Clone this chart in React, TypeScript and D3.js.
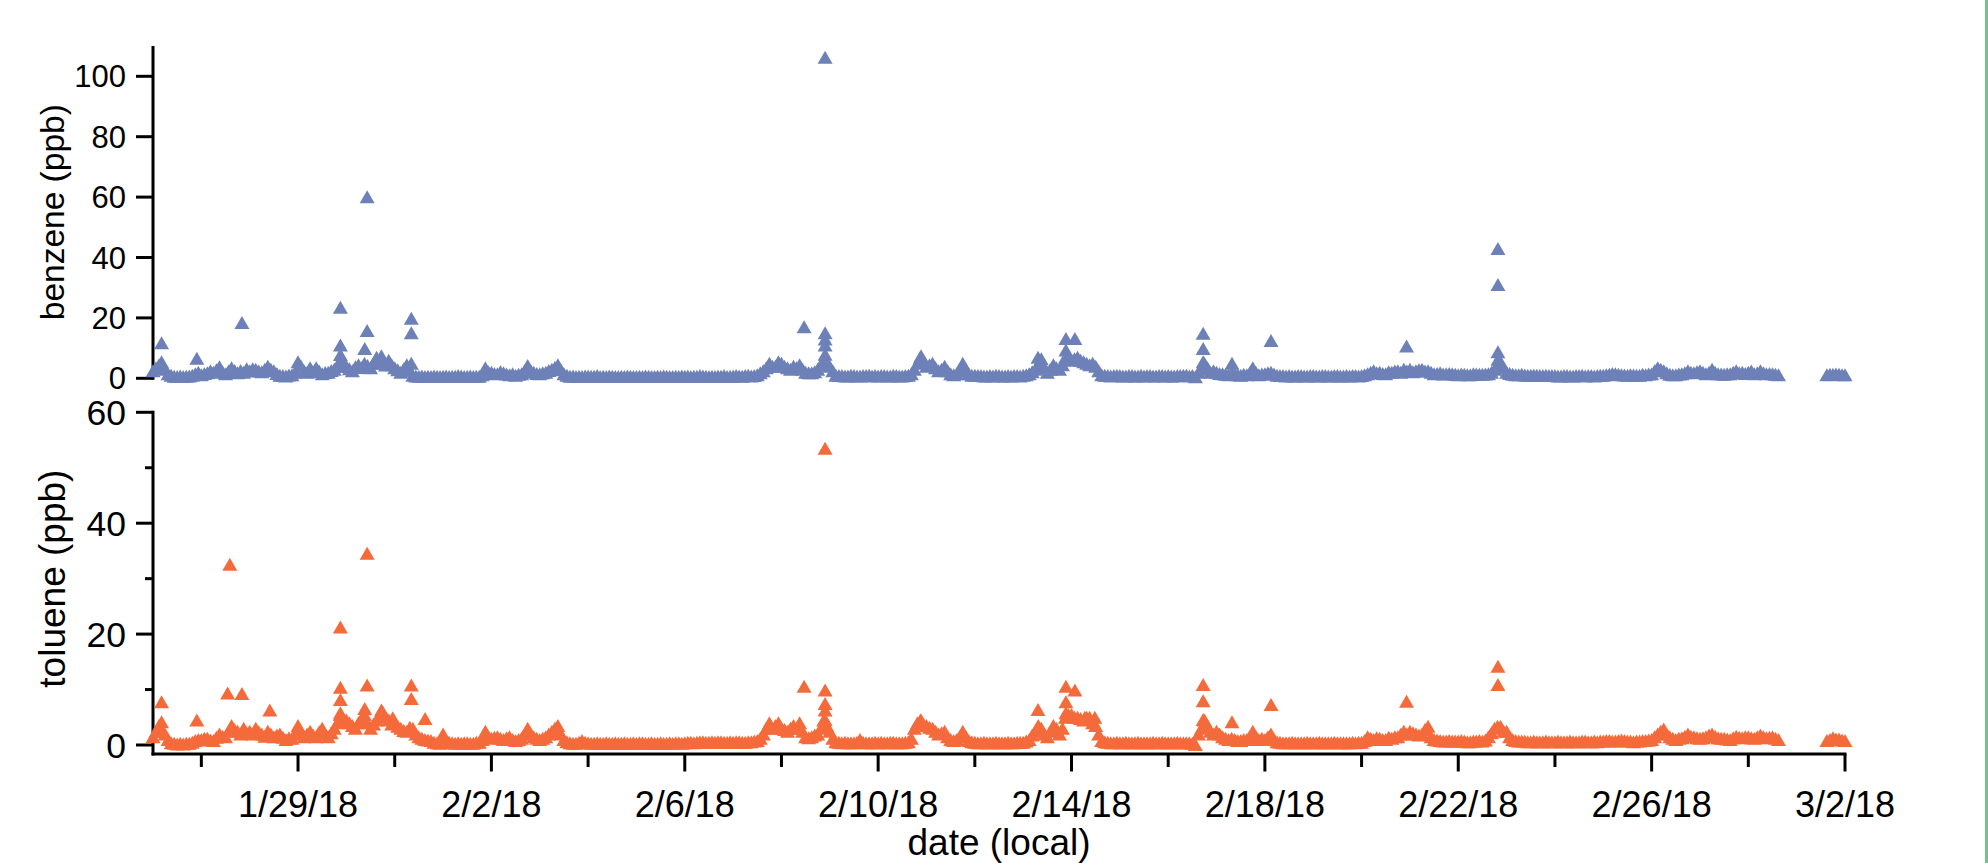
import React from "react";
import * as d3 from "d3";

// ---------- DATA ----------
const START = "2018-01-26 00:00"; // first baseline sample
const END_START = "2018-03-01 15:00"; // samples after the data gap
const STEP_MINUTES = 90;

// benzene (ppb), 90-minute samples from 1/26 00:00 to 2/28 15:00 (one row per day)
const benzeneMain = [
  2.5, 3.5, 4.5, 3.5, 3.0, 1.5, 1.0, 0.7, 0.6, 0.8, 0.6, 0.7, 0.8, 1.0, 1.5, 2.0,
  1.2, 1.6, 1.8, 2.5, 2.0, 2.8, 3.8, 2.2, 1.5, 2.4, 3.5, 2.6, 1.8, 2.6, 2.0, 3.2,
  2.5, 3.2, 3.0, 2.4, 2.2, 3.0, 4.0, 3.0, 2.5, 1.6, 1.0, 0.9, 0.8, 1.1, 1.2, 2.0,
  5.5, 4.0, 2.5, 2.0, 3.5, 2.2, 3.5, 2.4, 1.5, 1.9, 2.0, 2.6, 3.0, 4.0, 6.0, 5.0,
  4.0, 3.2, 2.5, 3.8, 4.5, 3.6, 5.0, 4.2, 3.5, 5.0, 7.0, 5.5, 5.0, 4.4, 6.0, 4.5,
  3.5, 2.8, 2.0, 3.2, 4.5, 2.5, 1.0, 0.8, 0.7, 0.8, 0.6, 0.7, 0.6, 0.8, 0.7, 0.6,
  0.7, 0.8, 0.6, 0.7, 0.7, 0.9, 0.8, 0.6, 0.7, 0.8, 0.6, 0.7, 0.7, 1.2, 3.5, 2.2,
  2.0, 1.6, 1.5, 2.2, 1.8, 1.4, 1.2, 1.5, 1.0, 1.3, 1.5, 2.5, 4.2, 2.6, 2.0, 1.6,
  1.5, 1.8, 2.0, 2.6, 3.0, 3.6, 4.5, 2.8, 1.5, 1.0, 0.7, 0.8, 0.6, 0.7, 0.6, 0.8,
  0.8, 0.7, 0.7, 0.9, 0.6, 0.7, 0.6, 0.8, 0.7, 0.6, 0.6, 0.7, 0.6, 0.8, 0.7, 0.6,
  0.6, 0.7, 0.6, 0.8, 0.7, 0.6, 0.6, 0.7, 0.6, 0.8, 0.7, 0.6, 0.6, 0.7, 0.6, 0.8,
  0.7, 0.8, 0.6, 0.7, 0.7, 0.9, 0.8, 0.7, 0.6, 0.7, 0.6, 0.8, 0.7, 0.9, 0.6, 0.7,
  0.8, 0.9, 0.8, 0.7, 0.9, 1.0, 0.8, 0.9, 1.2, 1.8, 2.5, 3.5, 5.0, 4.0, 4.0, 5.5,
  5.0, 4.0, 3.5, 3.0, 4.0, 3.5, 4.5, 3.0, 2.0, 1.8, 1.8, 2.2, 3.0, 4.5, 6.0, 5.0,
  4.0, 2.5, 1.0, 0.9, 0.9, 0.8, 0.8, 1.0, 0.9, 0.8, 0.8, 0.9, 0.9, 1.0, 0.8, 0.9,
  0.8, 0.9, 0.9, 0.8, 0.8, 1.0, 0.9, 0.8, 0.8, 0.9, 1.0, 1.5, 3.0, 5.0, 7.0, 6.0,
  4.0, 4.5, 5.0, 3.5, 2.5, 3.0, 4.0, 2.5, 1.5, 1.2, 1.5, 2.5, 5.0, 3.0, 1.5, 1.0,
  1.0, 0.9, 0.9, 0.8, 0.8, 0.9, 0.8, 1.0, 0.9, 0.8, 0.8, 0.9, 0.8, 0.9, 0.9, 0.8,
  1.0, 1.2, 1.5, 2.2, 3.0, 4.5, 6.5, 3.5, 2.0, 3.0, 4.5, 3.5, 3.0, 4.5, 7.0, 6.5,
  6.0, 6.5, 7.0, 6.0, 5.5, 5.0, 4.5, 5.0, 4.0, 2.5, 1.2, 1.0, 0.9, 0.8, 0.9, 1.0,
  0.9, 0.8, 0.8, 0.9, 0.9, 0.8, 0.8, 1.0, 0.8, 0.9, 0.9, 0.8, 0.8, 0.9, 0.9, 0.8,
  0.9, 0.8, 0.8, 0.9, 0.9, 1.0, 1.0, 0.8, 0.9, 0.5, 2.0, 3.0, 5.0, 3.5, 2.0, 2.5,
  2.0, 1.6, 1.5, 1.3, 1.2, 1.6, 1.5, 1.2, 1.0, 1.3, 1.2, 1.8, 3.5, 2.0, 1.2, 1.4,
  1.5, 1.8, 2.0, 1.4, 1.0, 0.9, 0.9, 0.8, 0.9, 0.8, 0.8, 0.9, 0.9, 0.8, 0.8, 0.9,
  0.9, 0.8, 0.8, 0.9, 0.9, 0.8, 0.8, 0.9, 0.9, 0.8, 0.8, 0.9, 0.8, 0.9, 0.9, 0.8,
  0.9, 1.2, 1.5, 2.0, 2.5, 1.8, 2.0, 1.6, 1.5, 2.2, 2.0, 2.4, 2.5, 2.0, 3.0, 2.4,
  3.0, 2.2, 2.5, 2.8, 3.0, 2.4, 2.5, 2.0, 1.5, 1.6, 1.8, 1.4, 1.5, 1.6, 1.5, 1.3,
  1.2, 1.4, 1.3, 1.2, 1.2, 1.5, 1.4, 1.3, 1.3, 1.4, 1.5, 2.0, 3.0, 4.5, 5.5, 3.5,
  2.0, 1.6, 1.3, 1.2, 1.2, 1.3, 1.1, 1.0, 1.0, 1.1, 1.0, 0.9, 0.9, 1.0, 0.9, 0.9,
  0.9, 0.8, 0.8, 0.9, 0.9, 0.8, 0.8, 0.9, 0.9, 1.0, 0.8, 0.9, 0.9, 0.8, 0.9, 1.0,
  1.0, 1.2, 1.3, 1.6, 1.5, 1.3, 1.2, 1.1, 1.0, 1.2, 1.1, 1.0, 1.0, 1.3, 1.2, 1.4,
  1.5, 2.5, 3.5, 3.0, 2.5, 1.8, 1.3, 1.2, 1.2, 1.4, 1.5, 1.8, 2.5, 2.0, 1.8, 2.2,
  2.5, 2.0, 1.5, 2.0, 3.0, 2.0, 1.5, 1.4, 1.3, 1.5, 1.5, 2.0, 2.5, 1.8, 2.0, 1.6,
  2.0, 2.4, 1.5, 1.8, 2.5, 1.8, 1.5, 1.6, 1.5, 1.3, 1.2,
];
const benzeneEnd = [1.2, 1.3, 1.3, 1.4, 1.3, 1.2, 1.2];

// toluene (ppb), same sampling
const tolueneMain = [
  1.5, 2.5, 3.5, 2.5, 2.0, 1.0, 0.4, 0.3, 0.2, 0.3, 0.2, 0.3, 0.3, 0.5, 0.8, 1.0,
  1.0, 1.2, 1.2, 0.9, 0.8, 1.4, 2.0, 1.6, 1.5, 2.5, 3.5, 2.8, 2.5, 2.0, 3.0, 2.2,
  2.5, 2.0, 3.0, 2.4, 2.0, 1.6, 2.5, 2.0, 1.5, 1.8, 2.0, 1.4, 1.0, 1.3, 1.2, 2.0,
  3.5, 2.2, 1.5, 2.0, 2.5, 1.8, 1.5, 2.4, 3.0, 2.0, 1.5, 2.2, 3.0, 4.0, 5.5, 4.5,
  4.5, 4.0, 3.5, 3.0, 4.0, 4.8, 5.5, 4.0, 3.0, 3.8, 4.5, 5.2, 6.0, 5.0, 4.5, 3.8,
  4.0, 3.4, 3.0, 2.6, 2.5, 3.2, 3.0, 2.0, 1.5, 1.2, 1.0, 0.9, 0.8, 0.5, 0.4, 0.3,
  2.0, 0.8, 0.5, 0.4, 0.3, 0.4, 0.3, 0.4, 0.4, 0.3, 0.3, 0.5, 0.5, 1.0, 2.5, 1.5,
  1.2, 1.4, 1.5, 1.2, 1.0, 1.3, 1.5, 1.0, 0.8, 1.0, 1.2, 2.0, 3.0, 2.0, 1.5, 1.2,
  1.0, 1.2, 1.5, 2.0, 2.5, 3.0, 3.5, 2.0, 1.0, 0.6, 0.4, 0.3, 0.3, 0.5, 0.8, 0.5,
  0.4, 0.3, 0.3, 0.4, 0.3, 0.3, 0.4, 0.3, 0.3, 0.4, 0.3, 0.3, 0.4, 0.3, 0.3, 0.4,
  0.3, 0.4, 0.4, 0.3, 0.3, 0.4, 0.3, 0.3, 0.4, 0.3, 0.3, 0.4, 0.3, 0.4, 0.4, 0.3,
  0.4, 0.5, 0.5, 0.4, 0.5, 0.6, 0.6, 0.5, 0.5, 0.6, 0.5, 0.6, 0.6, 0.5, 0.5, 0.6,
  0.5, 0.6, 0.6, 0.5, 0.5, 0.6, 0.6, 0.7, 0.8, 1.2, 2.0, 3.0, 4.0, 3.0, 3.5, 4.0,
  3.0, 2.8, 2.5, 3.0, 3.5, 3.0, 4.0, 2.5, 1.5, 1.3, 1.5, 1.8, 2.0, 3.0, 4.5, 3.5,
  2.5, 1.2, 0.6, 0.5, 0.4, 0.5, 0.4, 0.4, 0.4, 0.5, 1.0, 0.5, 0.4, 0.4, 0.4, 0.5,
  0.4, 0.5, 0.4, 0.4, 0.5, 0.5, 0.4, 0.4, 0.4, 0.5, 0.6, 1.2, 3.0, 4.0, 4.5, 3.8,
  3.5, 3.2, 3.0, 2.5, 2.0, 2.2, 2.5, 1.5, 1.0, 0.8, 1.0, 1.5, 2.5, 1.5, 0.8, 0.6,
  0.5, 0.4, 0.4, 0.5, 0.4, 0.4, 0.4, 0.5, 0.4, 0.4, 0.4, 0.5, 0.4, 0.4, 0.5, 0.5,
  0.5, 0.7, 1.0, 1.8, 2.5, 3.5, 3.0, 2.0, 1.5, 2.5, 3.5, 3.0, 2.0, 3.0, 5.0, 5.5,
  5.5, 5.0, 5.0, 4.8, 4.5, 5.0, 5.0, 4.0, 3.5, 2.0, 0.8, 0.6, 0.5, 0.4, 0.4, 0.5,
  0.4, 0.4, 0.5, 0.4, 0.4, 0.4, 0.5, 0.4, 0.4, 0.4, 0.4, 0.5, 0.4, 0.4, 0.5, 0.4,
  0.4, 0.4, 0.4, 0.5, 0.4, 0.4, 0.4, 0.4, 0.3, 0.1, 2.0, 3.0, 4.5, 3.5, 2.5, 2.0,
  2.5, 2.0, 1.5, 1.2, 1.0, 1.2, 1.0, 0.8, 0.8, 1.0, 1.0, 1.5, 2.5, 1.5, 1.0, 1.2,
  1.0, 1.5, 2.0, 1.0, 0.6, 0.5, 0.4, 0.4, 0.4, 0.5, 0.4, 0.4, 0.4, 0.4, 0.5, 0.4,
  0.4, 0.4, 0.5, 0.4, 0.4, 0.4, 0.4, 0.5, 0.4, 0.4, 0.4, 0.4, 0.4, 0.5, 0.4, 0.5,
  0.5, 0.8, 1.5, 1.2, 1.0, 1.3, 1.2, 1.0, 1.0, 1.4, 1.2, 1.5, 1.5, 2.0, 2.5, 2.0,
  2.5, 2.2, 2.0, 1.8, 2.0, 2.8, 3.4, 1.5, 1.0, 0.9, 0.8, 0.7, 0.7, 0.8, 0.7, 0.7,
  0.7, 0.8, 0.7, 0.6, 0.6, 0.7, 0.7, 0.8, 0.7, 0.9, 1.5, 2.2, 3.0, 3.4, 3.4, 2.5,
  2.5, 1.5, 1.0, 0.8, 0.7, 0.7, 0.7, 0.6, 0.6, 0.7, 0.6, 0.6, 0.6, 0.7, 0.6, 0.6,
  0.6, 0.7, 0.6, 0.6, 0.6, 0.7, 0.6, 0.6, 0.6, 0.7, 0.7, 0.6, 0.6, 0.7, 0.6, 0.7,
  0.7, 0.8, 0.8, 0.7, 0.7, 0.8, 0.9, 0.8, 0.7, 0.7, 0.6, 0.7, 0.7, 0.8, 0.8, 0.9,
  1.0, 1.5, 2.0, 2.5, 2.9, 2.0, 1.5, 1.2, 1.0, 1.2, 1.3, 1.6, 2.0, 1.6, 1.5, 1.3,
  1.2, 1.3, 1.5, 1.8, 2.0, 1.6, 1.3, 1.2, 1.2, 1.1, 1.0, 1.3, 1.6, 1.4, 1.3, 1.5,
  1.5, 1.3, 1.2, 1.5, 1.8, 1.5, 1.3, 1.4, 1.5, 1.2, 1.0,
];
const tolueneEnd = [0.8, 1.0, 1.3, 1.1, 1.1, 0.9, 0.8];

// isolated high readings: [local time, ppb]
const benzeneSpikes: [string, number][] = [
  ["2018-01-26 04:15", 11.8], ["2018-01-26 04:15", 5.5],
  ["2018-01-26 21:46", 6.6],
  ["2018-01-27 20:09", 18.5],
  ["2018-01-29 21:02", 23.5], ["2018-01-29 21:02", 11.0], ["2018-01-29 21:02", 7.9],
  ["2018-01-30 09:07", 9.9],
  ["2018-01-30 10:19", 60.1], ["2018-01-30 10:19", 15.8],
  ["2018-01-30 17:24", 7.5],
  ["2018-01-31 08:14", 19.9], ["2018-01-31 08:14", 15.1], ["2018-01-31 08:14", 5.0],
  ["2018-02-08 11:15", 17.1],
  ["2018-02-08 21:40", 106.3], ["2018-02-08 21:40", 15.1], ["2018-02-08 21:40", 13.0],
  ["2018-02-08 21:40", 11.0], ["2018-02-08 21:40", 8.0],
  ["2018-02-10 21:18", 7.5],
  ["2018-02-13 07:21", 7.0],
  ["2018-02-13 21:13", 13.2], ["2018-02-13 21:13", 9.4],
  ["2018-02-14 01:40", 13.2],
  ["2018-02-16 17:21", 14.9], ["2018-02-16 17:21", 9.9], ["2018-02-16 17:21", 5.5],
  ["2018-02-17 07:40", 5.0],
  ["2018-02-18 03:03", 12.5],
  ["2018-02-20 22:20", 10.7],
  ["2018-02-22 19:42", 43.0], ["2018-02-22 19:42", 31.1], ["2018-02-22 19:42", 8.8],
  ["2018-02-22 19:42", 6.3],
];

const tolueneSpikes: [string, number][] = [
  ["2018-01-26 04:15", 7.8], ["2018-01-26 04:15", 4.2],
  ["2018-01-26 21:46", 4.5],
  ["2018-01-27 13:02", 9.4],
  ["2018-01-27 14:08", 32.6],
  ["2018-01-27 20:09", 9.3],
  ["2018-01-28 10:00", 6.3],
  ["2018-01-29 21:02", 21.3], ["2018-01-29 21:02", 10.4], ["2018-01-29 21:02", 8.2],
  ["2018-01-29 21:02", 5.8],
  ["2018-01-30 09:07", 6.6],
  ["2018-01-30 10:19", 34.6], ["2018-01-30 10:19", 10.8],
  ["2018-01-30 17:24", 6.3],
  ["2018-01-30 23:02", 4.9],
  ["2018-01-31 08:14", 10.8], ["2018-01-31 08:14", 8.4],
  ["2018-01-31 15:04", 4.8],
  ["2018-02-08 11:15", 10.6],
  ["2018-02-08 21:40", 53.5], ["2018-02-08 21:40", 9.9], ["2018-02-08 21:40", 7.5],
  ["2018-02-08 21:40", 6.3], ["2018-02-08 21:40", 4.6],
  ["2018-02-10 21:18", 4.5],
  ["2018-02-13 07:21", 6.4],
  ["2018-02-13 21:13", 10.6], ["2018-02-13 21:13", 7.8], ["2018-02-13 21:13", 5.8],
  ["2018-02-14 01:40", 9.9],
  ["2018-02-14 06:39", 5.0],
  ["2018-02-14 11:35", 5.0],
  ["2018-02-16 17:21", 10.9], ["2018-02-16 17:21", 8.0], ["2018-02-16 17:21", 4.6],
  ["2018-02-17 07:40", 4.2],
  ["2018-02-18 03:03", 7.3],
  ["2018-02-20 22:20", 7.9],
  ["2018-02-22 19:42", 14.2], ["2018-02-22 19:42", 10.9],
];

const xDomain = ["2018-01-26 00:00", "2018-03-02 00:00"];
const majorTicks = ["1/29/18", "2/2/18", "2/6/18", "2/10/18", "2/14/18", "2/18/18", "2/22/18", "2/26/18", "3/2/18"];
const minorTicks = ["1/27/18", "1/31/18", "2/4/18", "2/8/18", "2/12/18", "2/16/18", "2/20/18", "2/24/18", "2/28/18"];
const benzeneTicks = [0, 20, 40, 60, 80, 100];
const tolueneTicks = [0, 20, 40, 60];
const tolueneMinorTicks = [10, 30, 50];

// ---------- STYLE ----------
const BLUE = "#6d81b8";
const ORANGE = "#f56a3b";
const FONT = "'Liberation Sans', Arial, Helvetica, sans-serif";

const parseTime = d3.timeParse("%Y-%m-%d %H:%M");
const parseTick = d3.timeParse("%m/%d/%y");
const fmtTick = d3.timeFormat("%-m/%-d/%y");

type Pt = { t: Date; v: number };

function series(startStr: string, values: number[]): Pt[] {
  const s = parseTime(startStr)!;
  return values.map((v, i) => ({ t: d3.timeMinute.offset(s, i * STEP_MINUTES), v }));
}
function spikes(list: [string, number][]): Pt[] {
  return list.map(([t, v]) => ({ t: parseTime(t)!, v }));
}

const TRI = "M0,-6.5L7.5,6.5L-7.5,6.5Z";

export default function App() {
  const W = 1988;
  const H = 863;

  const x = d3
    .scaleTime()
    .domain(xDomain.map((d) => parseTime(d)!))
    .range([153, 1845]);
  const yB = d3.scaleLinear().domain([0, 100]).range([378.3, 76.3]);
  const yT = d3.scaleLinear().domain([0, 60]).range([745, 412.3]);

  const bPts = [...series(START, benzeneMain), ...series(END_START, benzeneEnd), ...spikes(benzeneSpikes)];
  const tPts = [...series(START, tolueneMain), ...series(END_START, tolueneEnd), ...spikes(tolueneSpikes)];

  const axisX = x.range()[0];
  const xAxisY = 754;
  const sw = 3;

  return (
    <svg
      width={W}
      height={H}
      viewBox={`0 0 ${W} ${H}`}
      style={{ position: "absolute", left: 0, top: 0, background: "#fff" }}
      fontFamily={FONT}
    >
      <rect x={0} y={0} width={W} height={H} fill="#ffffff" />

      {/* ---- top panel axis (benzene) ---- */}
      <line x1={axisX} x2={axisX} y1={yB(110)} y2={yB(0) + 1.5} stroke="#000" strokeWidth={sw} />
      {benzeneTicks.map((v) => (
        <g key={"bt" + v}>
          <line x1={axisX - 17} x2={axisX} y1={yB(v)} y2={yB(v)} stroke="#000" strokeWidth={sw} />
          <text x={axisX - 27} y={yB(v)} dy="0.36em" textAnchor="end" fontSize={31} fill="#000">
            {v}
          </text>
        </g>
      ))}
      <text
        transform={`translate(64,${(yB(110) + yB(0)) / 2}) rotate(-90)`}
        textAnchor="middle"
        fontSize={33.5}
        fill="#000"
      >
        benzene (ppb)
      </text>

      {/* ---- bottom panel axes (toluene) ---- */}
      <line x1={axisX} x2={axisX} y1={yT(60) - 1.5} y2={xAxisY + 1.5} stroke="#000" strokeWidth={sw} />
      {tolueneTicks.map((v) => (
        <g key={"tt" + v}>
          <line x1={axisX - 17} x2={axisX} y1={yT(v)} y2={yT(v)} stroke="#000" strokeWidth={sw} />
          <text x={axisX - 27} y={yT(v)} dy="0.36em" textAnchor="end" fontSize={35.5} fill="#000">
            {v}
          </text>
        </g>
      ))}
      {tolueneMinorTicks.map((v) => (
        <line key={"tm" + v} x1={axisX - 8} x2={axisX} y1={yT(v)} y2={yT(v)} stroke="#000" strokeWidth={sw} />
      ))}
      <text
        transform={`translate(65,${(yT(60) + yT(0)) / 2}) rotate(-90)`}
        textAnchor="middle"
        fontSize={37}
        fill="#000"
      >
        toluene (ppb)
      </text>

      {/* ---- x axis ---- */}
      <line x1={axisX - 1.5} x2={x.range()[1] + 1.5} y1={xAxisY} y2={xAxisY} stroke="#000" strokeWidth={sw} />
      {minorTicks.map((s) => {
        const d = parseTick(s)!;
        return <line key={"xm" + s} x1={x(d)} x2={x(d)} y1={xAxisY} y2={xAxisY + 13} stroke="#000" strokeWidth={sw} />;
      })}
      {majorTicks.map((s) => {
        const d = parseTick(s)!;
        return (
          <g key={"xM" + s}>
            <line x1={x(d)} x2={x(d)} y1={xAxisY} y2={xAxisY + 17.5} stroke="#000" strokeWidth={sw} />
            <text x={x(d)} y={816.5} textAnchor="middle" fontSize={36} fill="#000">
              {fmtTick(d)}
            </text>
          </g>
        );
      })}
      <text x={(x.range()[0] + x.range()[1]) / 2} y={855} textAnchor="middle" fontSize={37} fill="#000">
        date (local)
      </text>

      {/* ---- markers ---- */}
      <g fill={BLUE}>
        {bPts.map((p, i) => (
          <path key={"b" + i} d={TRI} transform={`translate(${x(p.t)},${yB(p.v)})`} />
        ))}
      </g>
      <g fill={ORANGE}>
        {tPts.map((p, i) => (
          <path key={"t" + i} d={TRI} transform={`translate(${x(p.t)},${yT(p.v)})`} />
        ))}
      </g>

      {/* right-hand green border */}
      <rect x={1985} y={0} width={3} height={H} fill="#76c08d" />
    </svg>
  );
}
